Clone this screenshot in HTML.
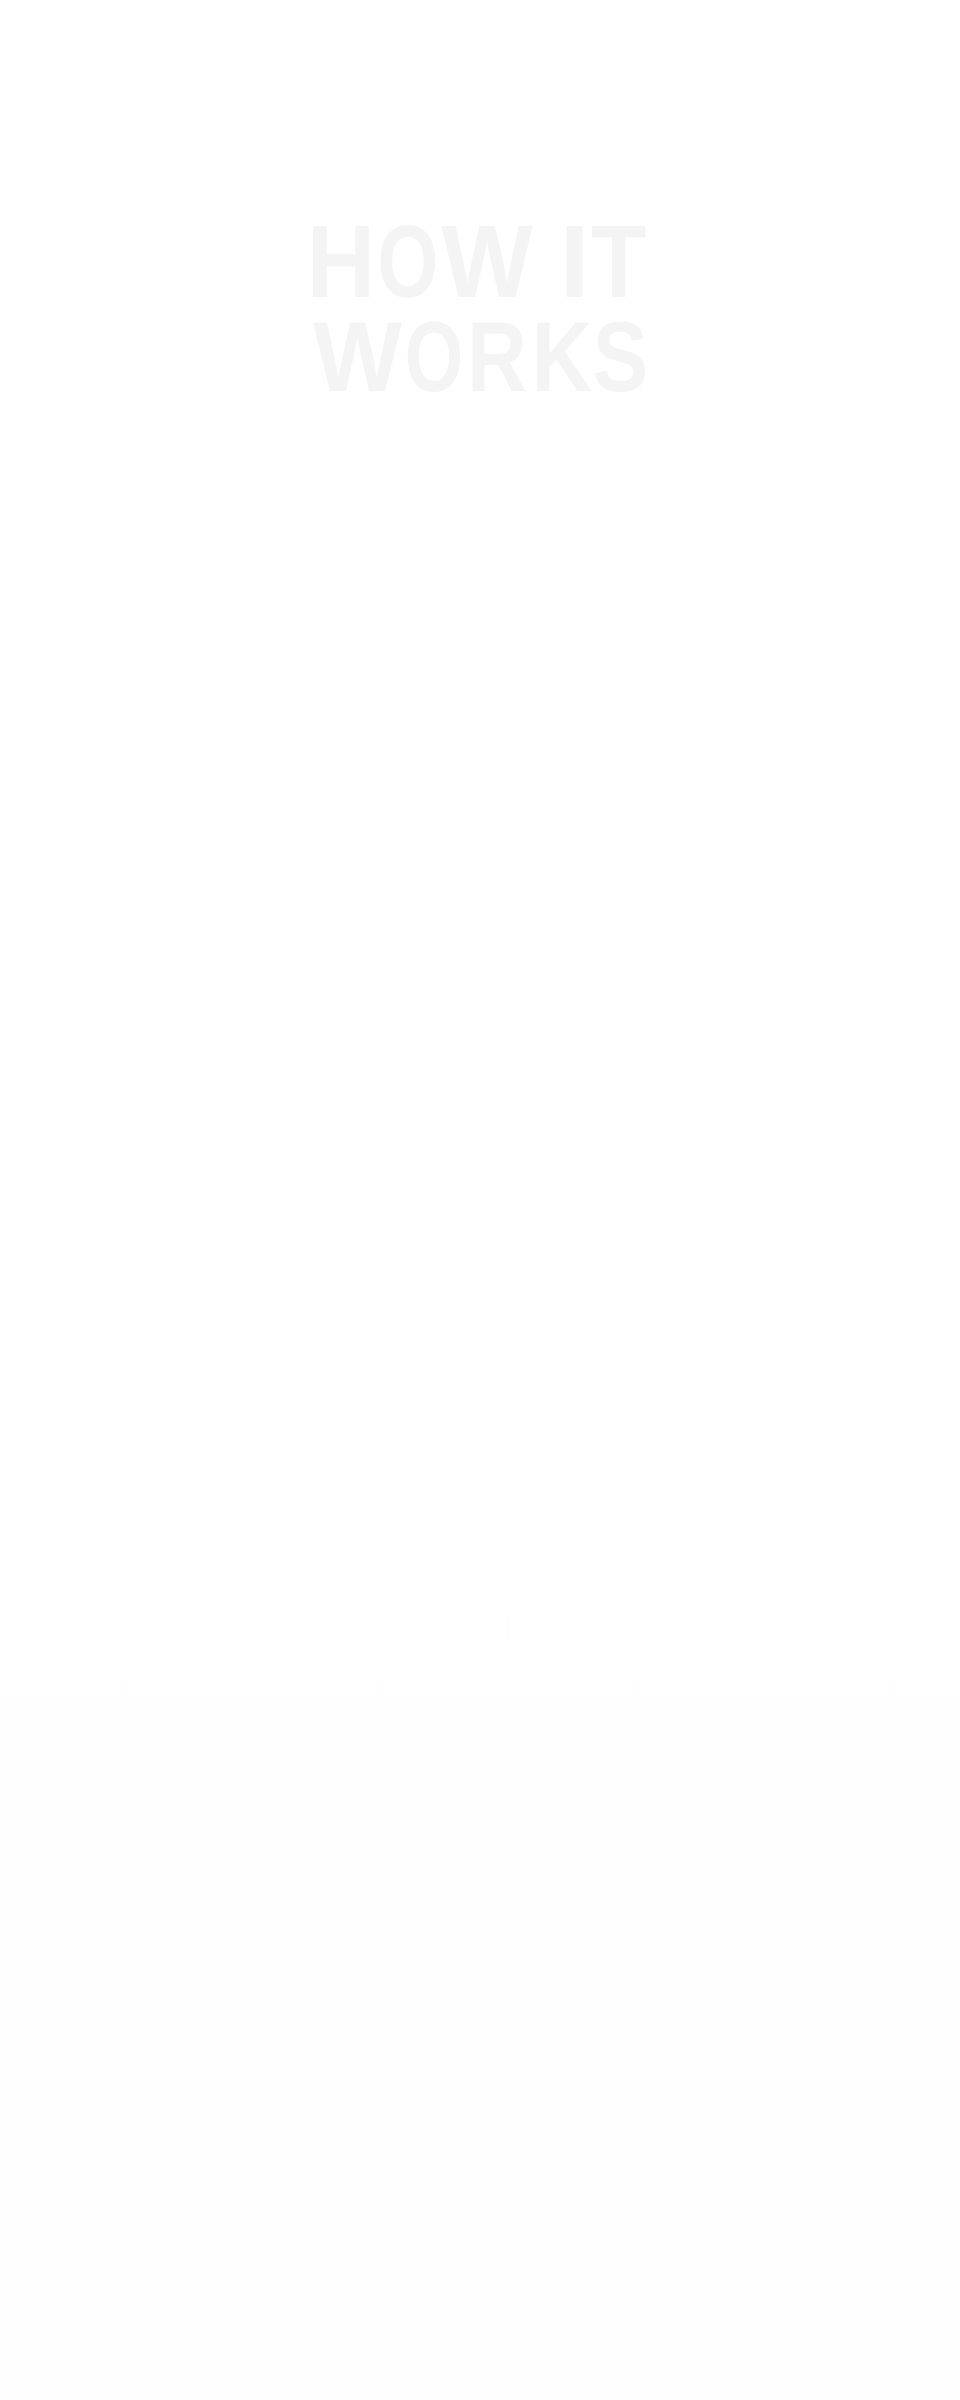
<!DOCTYPE html>
<html>
<head>
<meta charset="utf-8">
<style>
  html, body { margin: 0; padding: 0; }
  body {
    width: 960px; height: 2400px; overflow: hidden;
    background: linear-gradient(to bottom, #ffffff 0%, #ffffff 50%, #fefefe 100%);
    position: relative;
  }
  svg { position: absolute; left: 0; top: 0; }
  text { font-family: "Liberation Sans", Arial, sans-serif; font-weight: bold; fill: #f4f4f4; text-anchor: middle; }
</style>
</head>
<body>
<svg width="960" height="2400" viewBox="0 0 960 2400" xmlns="http://www.w3.org/2000/svg">
  <g font-size="103">
    <text transform="translate(341,297) scale(0.92,1)">H</text>
    <text transform="translate(408,297) scale(0.76,1)">O</text>
    <text transform="translate(487,297) scale(0.94,1)">W</text>
    <text transform="translate(574.5,297) scale(1.07,1)">I</text>
    <text transform="translate(618.5,297) scale(0.88,1)">T</text>
  </g>
  <g font-size="99">
    <text transform="translate(357.5,391) scale(0.95,1)">W</text>
    <text transform="translate(434,391) scale(0.76,1)">O</text>
    <text transform="translate(497,391) scale(0.84,1)">R</text>
    <text transform="translate(562,391) scale(0.85,1)">K</text>
    <text transform="translate(620.5,391) scale(0.84,1)">S</text>
  </g>
</svg>
</body>
</html>
